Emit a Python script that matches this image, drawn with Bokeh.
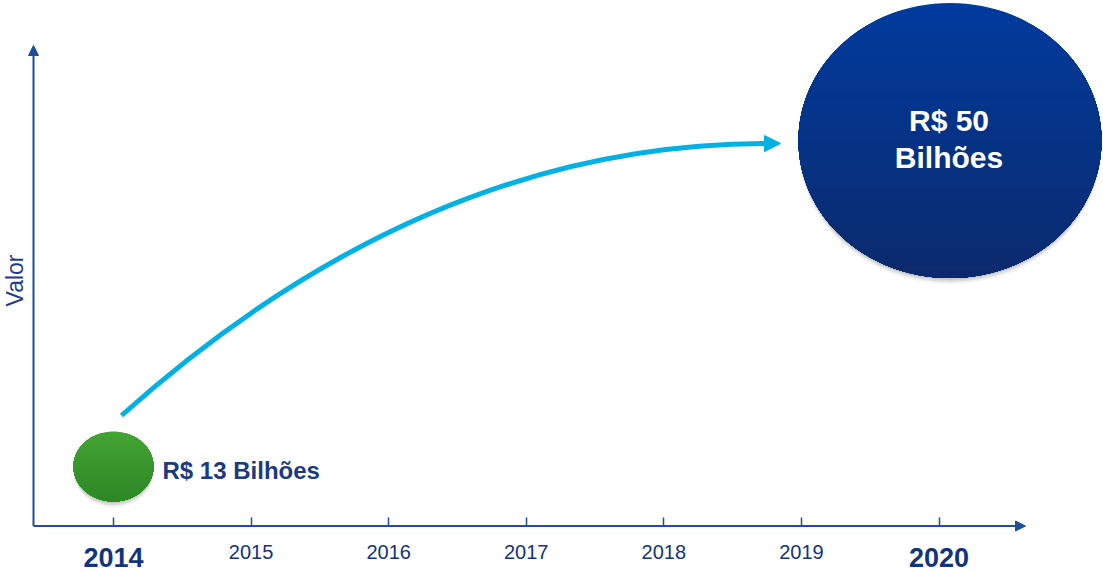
import numpy as np
from bokeh.plotting import figure
from bokeh.models import Arrow, NormalHead, Label, FixedTicker, LinearAxis
from bokeh.core.properties import value
from bokeh.embed import file_html
from bokeh.resources import INLINE

# ---------------- data ----------------
years = [2014, 2015, 2016, 2017, 2018, 2019, 2020]
tick_labels = ["2014", "2015", "2016", "2017", "2018", "2019", "2020"]
bold_years = [2014, 2020]
bubble_years = [2014, 2020]
bubble_values = [13, 50]
bubble_labels = ["R$ 13 Bilhões", "R$ 50\nBilhões"]
y_title = "Valor"

# ---------------- layout ----------------
W, H = 1103, 572
PX = 825.5 / (bubble_years[1] - bubble_years[0])   # pixels per year
PY = 326.0 / (bubble_values[1] - bubble_values[0])  # pixels per value unit
X0, Y0 = 113, 466        # pixel position of first bubble centre
XR = (bubble_years[0] - X0 / PX, bubble_years[0] + (W - X0) / PX)
YR = (bubble_values[0] - (H - Y0) / PY, bubble_values[0] + Y0 / PY)


def sx(px):
    return XR[0] + px / PX


def sy(py):
    return YR[1] - py / PY


FONT = "Liberation Sans"
AXIS_C = "#1f4e9b"
NAVY = "#12337e"
CURVE_C = "#00b1e4"

p = figure(width=W, height=H, x_range=XR, y_range=YR, output_backend="svg",
           toolbar_location=None, x_axis_location=None, y_axis_location=None,
           min_border=0)
p.grid.visible = False
p.outline_line_color = None
p.background_fill_color = "white"

Y_AX = sy(525.5)
X_AX = sx(33)

# regular x axis (ticks + normal labels)
ax = LinearAxis(fixed_location=Y_AX)
ax.ticker = FixedTicker(ticks=years)
ax.major_label_overrides = {y: ("" if y in bold_years else l) for y, l in zip(years, tick_labels)}
ax.axis_line_color = None
ax.major_tick_line_color = AXIS_C
ax.major_tick_line_width = 1.5
ax.major_tick_in = 9
ax.major_tick_out = 0
ax.minor_tick_line_color = None
ax.major_label_text_font = FONT
ax.major_label_text_font_size = "20px"
ax.major_label_text_color = NAVY
ax.major_label_standoff = 19
p.add_layout(ax, "below")

# bold labels for first/last year
ax2 = LinearAxis(fixed_location=Y_AX)
ax2.ticker = FixedTicker(ticks=bold_years)
ax2.axis_line_color = None
ax2.major_tick_line_color = None
ax2.minor_tick_line_color = None
ax2.major_tick_in = 0
ax2.major_tick_out = 0
ax2.major_label_text_font = FONT
ax2.major_label_text_font_size = "27px"
ax2.major_label_text_font_style = "bold"
ax2.major_label_text_color = NAVY
ax2.major_label_standoff = 22
p.add_layout(ax2, "below")

# axis arrows
p.add_layout(Arrow(end=NormalHead(size=10, fill_color=AXIS_C, line_color=AXIS_C, line_width=1),
                   x_start=X_AX, y_start=Y_AX, x_end=X_AX, y_end=sy(45),
                   line_color=AXIS_C, line_width=2))
p.add_layout(Arrow(end=NormalHead(size=10, fill_color=AXIS_C, line_color=AXIS_C, line_width=1),
                   x_start=X_AX, y_start=Y_AX, x_end=sx(1025), y_end=Y_AX,
                   line_color=AXIS_C, line_width=2))

# y title
p.add_layout(Label(x=sx(14), y=sy(280), text=y_title,
                   angle=np.pi / 2, text_align="center", text_baseline="middle",
                   text_font=FONT, text_font_size="23px", text_color="#1f3d8a"))


def hexmix(c1, c2, t):
    a = [int(c1[i:i + 2], 16) for i in (1, 3, 5)]
    b = [int(c2[i:i + 2], 16) for i in (1, 3, 5)]
    return "#%02x%02x%02x" % tuple(round(a[k] + (b[k] - a[k]) * t) for k in range(3))


def bubble(cx, cy, rx, ry, c_top, c_bot, n=40):
    # soft shadow
    for off, al in ((2, 0.18), (4, 0.14), (6, 0.08)):
        p.ellipse(x=cx, y=cy - off / PY, width=2 * rx / PX, height=2 * ry / PY,
                  fill_color="#606060", fill_alpha=al, line_color=None)
    xs_l, ys_l, cols = [], [], []
    for i in range(n):
        level = ry - 2 * ry * i / n
        th0 = np.arcsin(np.clip(level / ry, -1, 1))
        a = np.linspace(th0, -np.pi - th0, 120)
        xs_l.append(list(cx + rx * np.cos(a) / PX))
        ys_l.append(list(cy + ry * np.sin(a) / PY))
        cols.append(hexmix(c_top, c_bot, (i + 0.5) / n))
    p.patches(xs_l, ys_l, fill_color=cols, line_color=None)


gx, gy = bubble_years[0], bubble_values[0]
bx, by = bubble_years[1] + 11 / PX, bubble_values[1]
bubble(gx, gy, 40, 35, "#43a533", "#2e8726")
bubble(bx, by, 151.5, 137.5, "#013b9e", "#0b2a6c")

# curve from small to large bubble
x0, y0 = gx + 8 / PX, gy + 51 / PY
cxp, cyp = gx + 312 / PX, by - 3 / PY
x1, y1 = gx + 653 / PX, by - 3 / PY
p.quadratic(x0=[x0], y0=[y0], x1=[x1], y1=[y1], cx=[cxp], cy=[cyp],
            line_color=CURVE_C, line_width=5)
p.add_layout(Arrow(end=NormalHead(size=16, fill_color=CURVE_C, line_color=CURVE_C, line_width=1),
                   x_start=x1 - 4 / PX, y_start=y1, x_end=gx + 667 / PX, y_end=y1,
                   line_alpha=0))

# bubble labels
p.text(x=[gx + 49 / PX], y=[gy - 4 / PY], text=[bubble_labels[0]],
       text_align="left", text_baseline="middle", text_font=value(FONT),
       text_font_size="24px", text_font_style="bold", text_color="#1b3a80")
p.text(x=[bx - 1 / PX], y=[by + 1.5 / PY], text=[bubble_labels[1]],
       text_align="center", text_baseline="middle", text_font=value(FONT),
       text_font_size="30px", text_font_style="bold", text_color="white",
       text_line_height=1.1)

open("out.html", "w").write(file_html(p, INLINE))
